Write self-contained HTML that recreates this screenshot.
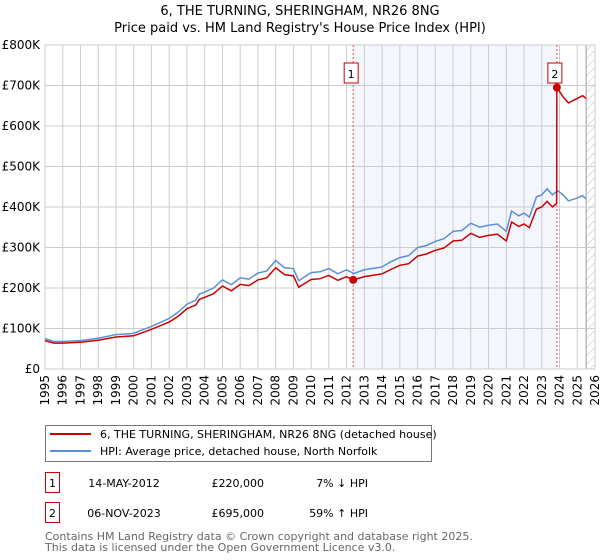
<!DOCTYPE html>
<html><head><meta charset="utf-8"><style>
body{margin:0;background:#fff;font-family:"Liberation Sans","DejaVu Sans",sans-serif}
#wrap{position:relative;width:600px;height:560px;overflow:hidden}
text{font-family:"DejaVu Sans","Liberation Sans",sans-serif}
</style></head><body><div id="wrap">
<svg id="svg" width="600" height="560"></svg>
</div>
<script>
const years=[1995,1996,1997,1998,1999,2000,2001,2002,2003,2004,2005,2006,2007,2008,2009,2010,2011,2012,2013,2014,2015,2016,2017,2018,2019,2020,2021,2022,2023,2024,2025,2026];
const yTicks=[0,100000,200000,300000,400000,500000,600000,700000,800000];
const yTickLabels=["£0","£100K","£200K","£300K","£400K","£500K","£600K","£700K","£800K"];
const hpiT=[1995.0,1995.5,1996,1997,1998,1999,2000,2000.5,2001,2002,2002.5,2003,2003.5,2003.7,2004,2004.5,2005,2005.5,2006,2006.5,2007,2007.5,2008,2008.5,2009,2009.3,2010,2010.5,2011,2011.5,2012,2012.4,2013,2014,2014.5,2015,2015.5,2016,2016.5,2017,2017.5,2018,2018.5,2019,2019.5,2020,2020.5,2021,2021.3,2021.7,2022,2022.3,2022.7,2023,2023.3,2023.6,2023.9,2024.2,2024.5,2025,2025.3,2025.5];
const hpiV=[75000,68000,68000,70000,76000,85000,88000,97000,105000,125000,140000,160000,170000,185000,190000,200000,220000,208000,225000,222000,237000,242000,268000,250000,248000,218000,238000,240000,248000,235000,245000,236000,245000,252000,265000,275000,280000,300000,305000,315000,322000,340000,342000,360000,350000,355000,358000,340000,390000,378000,385000,375000,425000,430000,445000,430000,440000,430000,415000,422000,428000,420000];
const priceT=[1995.0,1995.5,1996,1997,1998,1999,2000,2000.5,2001,2002,2002.5,2003,2003.5,2003.7,2004,2004.5,2005,2005.5,2006,2006.5,2007,2007.5,2008,2008.5,2009,2009.3,2010,2010.5,2011,2011.5,2012,2012.37,2013,2014,2014.5,2015,2015.5,2016,2016.5,2017,2017.5,2018,2018.5,2019,2019.5,2020,2020.5,2021,2021.3,2021.7,2022,2022.3,2022.7,2023,2023.3,2023.6,2023.84,2023.85,2024.2,2024.5,2025,2025.3,2025.5];
const priceV=[70000,64000,64000,66000,71000,79000,82000,90000,98000,116000,130000,149000,158000,172000,177000,186000,205000,193000,209000,206000,220000,225000,250000,233000,230000,202000,221000,223000,231000,219000,228000,220000,228000,235000,246000,256000,260000,279000,284000,293000,299000,316000,318000,335000,325000,330000,333000,316000,363000,352000,358000,349000,395000,400000,414000,400000,409000,695000,672000,657000,668000,675000,668000];
const sales=[{t:2012.37,v:220000,n:"1"},{t:2023.85,v:695000,n:"2"}];
const L=45,R=595,T=45,B=369;
const X=t=>L+(t-1995)/31*(R-L);
const Y=v=>B-v/800000*(B-T);
const svg=document.getElementById('svg');const NS='http://www.w3.org/2000/svg';
function mk(tag,at,txt){const e=document.createElementNS(NS,tag);for(const k in at)e.setAttribute(k,at[k]);if(txt!==undefined)e.textContent=txt;svg.appendChild(e);return e;}
let e;
e=mk('text',{x:300,y:15,'text-anchor':'middle','font-size':13},'6, THE TURNING, SHERINGHAM, NR26 8NG');


e=mk('text',{x:300,y:32,'text-anchor':'middle','font-size':13},"Price paid vs. HM Land Registry's House Price Index (HPI)");


e=mk('rect',{x:X(sales[0].t),y:T,width:X(sales[1].t)-X(sales[0].t),height:B-T,fill:'#eef2fc',opacity:0.7});


// hatch
const defs=document.createElementNS(NS,'defs');defs.innerHTML='<pattern id="h" width="6" height="6" patternUnits="userSpaceOnUse" patternTransform="rotate(45)"><line x1="0" y1="0" x2="0" y2="6" stroke="#bbb" stroke-width="1"/></pattern>';svg.appendChild(defs);
e=mk('rect',{x:X(2025.5),y:T,width:R-X(2025.5),height:B-T,fill:'url(#h)'});


mk('line',{x1:X(2025.5),x2:X(2025.5),y1:T,y2:B,stroke:'#999','stroke-width':1});
years.forEach(y=>{e=mk('line',{x1:X(y),x2:X(y),y1:T,y2:B,stroke:'#ccc','stroke-width':1});


e=mk('text',{x:0,y:0,'font-size':12,'text-anchor':'end',transform:`translate(${X(y)+4},${B+6}) rotate(-90)`},String(y));

});
yTicks.forEach((v,i)=>{e=mk('line',{x1:L,x2:R,y1:Y(v),y2:Y(v),stroke:'#ccc','stroke-width':1});


e=mk('text',{x:L-5,y:Y(v)+4,'font-size':12,'text-anchor':'end'},yTickLabels[i]);

});
mk('rect',{x:L,y:T,width:R-L,height:B-T,fill:'none',stroke:'#ccc'});
sales.forEach(s=>{e=mk('line',{x1:X(s.t),x2:X(s.t),y1:T,y2:B,stroke:'#e44','stroke-width':1,'stroke-dasharray':'2,2'});

});
e=mk('polyline',{points:hpiT.map((t,i)=>X(t)+','+Y(hpiV[i])).join(' '),fill:'none',stroke:'#5b8fd6','stroke-width':1.5});


e=mk('polyline',{points:priceT.map((t,i)=>X(t)+','+Y(priceV[i])).join(' '),fill:'none',stroke:'#cc0000','stroke-width':1.5});


sales.forEach(s=>{e=mk('circle',{cx:X(s.t),cy:Y(s.v),r:4,fill:'#cc0000'});


e=mk('rect',{x:X(s.t)-9,y:63,width:14,height:20,fill:'#fff',stroke:'#cc0000'});


mk('text',{x:X(s.t)-2,y:78,'font-size':11,'text-anchor':'middle'},s.n);});
// legend
e=mk('rect',{x:45.5,y:425.5,width:386,height:36,fill:'#fff',stroke:'#777'});


mk('line',{x1:50,x2:91,y1:434,y2:434,stroke:'#cc0000','stroke-width':2});
e=mk('text',{x:100,y:438,'font-size':11},'6, THE TURNING, SHERINGHAM, NR26 8NG (detached house)');


mk('line',{x1:50,x2:91,y1:451,y2:451,stroke:'#5b8fd6','stroke-width':2});
e=mk('text',{x:100,y:455,'font-size':11},'HPI: Average price, detached house, North Norfolk');


const rows=[["1","14-MAY-2012","£220,000","7% ↓ HPI"],["2","06-NOV-2023","£695,000","59% ↑ HPI"]];
rows.forEach((r,i)=>{const y=483+i*30;
e=mk('rect',{x:45.5,y:y-10.5,width:14,height:20,fill:'#fff',stroke:'#cc0000'});


mk('text',{x:52.5,y:y+4,'font-size':11,'text-anchor':'middle'},r[0]);
mk('text',{x:124,y:y+4,'font-size':11,'text-anchor':'middle'},r[1]);
mk('text',{x:264,y:y+4,'font-size':11,'text-anchor':'end'},r[2]);
e=mk('text',{x:368,y:y+4,'font-size':11,'text-anchor':'end'},r[3]);

});
e=mk('text',{x:45,y:540,'font-size':11,fill:'#666'},'Contains HM Land Registry data © Crown copyright and database right 2025.');


e=mk('text',{x:45,y:551,'font-size':11,fill:'#666'},'This data is licensed under the Open Government Licence v3.0.');


</script></body></html>
